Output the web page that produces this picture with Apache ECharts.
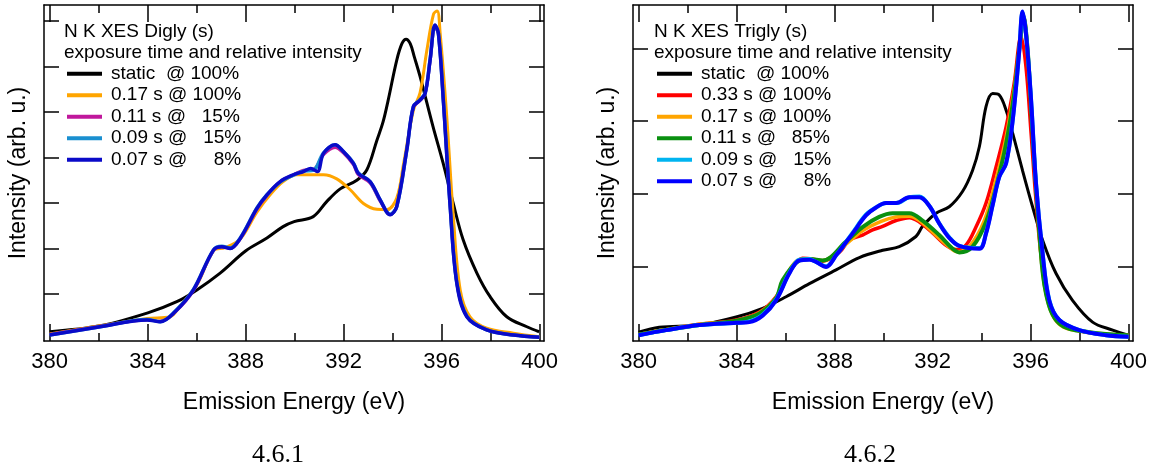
<!DOCTYPE html>
<html>
<head>
<meta charset="utf-8">
<script src="https://cdn.jsdelivr.net/npm/echarts@6/dist/echarts.min.js"></script>
<style>
html,body{margin:0;padding:0;background:#fff;}
#main{width:1151px;height:469px;}
</style>
</head>
<body>
<div id="main"></div>
<script>
// tick positions (eV)
var majorTicks = [380, 384, 388, 392, 396, 400];
var minorTicks = [382, 386, 390, 394, 398];
var tickLabels = [380, 384, 388, 392, 396, 400];
var leftYTicks = [1, 2, 3, 4, 5, 6, 7];
var rightYTicks = [1, 2, 3, 4];

// ---- 4.6.1  N K XES Digly (s) ----
var digNames = ['static  @ 100%', '0.17 s @ 100%', '0.11 s @   15%', '0.09 s @   15%', '0.07 s @     8%'];
var digColors = ['#000000', '#ffa500', '#c0189c', '#1a8fd0', '#0a0ac8'];
var digStatic = [[380.0,0.17],[382.06,0.30],[383.98,0.58],[385.19,0.83],[386.01,1.09],[386.96,1.46],[388.01,1.95],[388.87,2.23],[389.53,2.48],[389.98,2.59],[390.76,2.70],[391.31,3.03],[391.86,3.31],[392.54,3.50],[392.95,3.73],[393.36,4.38],[393.61,4.78],[393.82,5.26],[394.17,6.14],[394.38,6.50],[394.55,6.60],[394.72,6.50],[394.88,6.22],[395.12,5.78],[395.65,4.68],[396.06,3.88],[396.47,3.00],[396.88,2.19],[397.44,1.46],[397.98,0.94],[398.66,0.50],[399.48,0.28],[399.98,0.17]];
var dig017 = [[380.0,0.12],[382.06,0.30],[383.98,0.46],[384.92,0.50],[385.33,0.74],[386.01,1.20],[386.69,1.95],[387.16,2.02],[387.78,2.21],[388.46,2.80],[389.0,3.18],[389.53,3.47],[390.09,3.62],[391.18,3.62],[391.72,3.53],[392.27,3.29],[392.81,2.99],[393.36,2.86],[393.76,2.85],[394.17,3.11],[394.44,3.84],[394.85,5.04],[395.12,5.42],[395.40,6.36],[395.67,7.15],[395.82,7.22],[395.94,6.74],[396.21,4.90],[396.48,2.70],[396.76,1.09],[397.16,0.50],[397.84,0.25],[398.93,0.14],[399.99,0.06]];
var dig011 = [[380.0,0.11],[382.06,0.29],[383.98,0.43],[384.51,0.40],[385.12,0.60],[385.87,1.07],[386.69,1.95],[387.03,2.03],[387.37,2.00],[387.78,2.21],[388.46,2.86],[388.87,3.16],[389.41,3.47],[389.95,3.62],[390.36,3.72],[390.77,3.74],[391.18,4.06],[391.65,4.22],[391.99,4.10],[392.40,3.84],[392.60,3.62],[393.08,3.44],[393.49,3.04],[393.90,2.74],[394.17,2.93],[394.58,4.18],[394.85,5.10],[395.12,5.25],[395.33,5.40],[395.53,6.10],[395.73,6.86],[395.87,6.70],[396.07,5.25],[396.35,2.93],[396.62,1.24],[397.03,0.51],[397.84,0.21],[398.93,0.10],[399.99,0.05]];
var dig009 = [[380.0,0.10],[382.06,0.28],[383.98,0.44],[384.51,0.39],[385.12,0.62],[385.87,1.10],[386.69,1.97],[387.03,2.05],[387.37,2.01],[387.78,2.23],[388.46,2.89],[388.87,3.18],[389.41,3.46],[389.95,3.61],[390.36,3.70],[390.77,3.72],[391.18,4.10],[391.65,4.28],[391.99,4.13],[392.40,3.88],[392.60,3.66],[393.08,3.47],[393.49,3.07],[393.90,2.75],[394.17,2.92],[394.58,4.17],[394.85,5.12],[395.12,5.27],[395.33,5.42],[395.53,6.15],[395.73,6.90],[395.87,6.72],[396.07,5.27],[396.35,2.93],[396.62,1.25],[397.03,0.51],[397.84,0.21],[398.93,0.10],[399.99,0.05]];
var dig007 = [[380.0,0.10],[382.06,0.28],[383.98,0.43],[384.51,0.39],[385.12,0.61],[385.87,1.09],[386.69,1.97],[387.03,2.04],[387.37,2.00],[387.78,2.22],[388.46,2.88],[388.87,3.18],[389.41,3.47],[389.95,3.62],[390.36,3.69],[390.66,3.76],[390.93,3.69],[391.18,4.09],[391.65,4.28],[391.99,4.13],[392.40,3.87],[392.60,3.65],[393.08,3.47],[393.49,3.07],[393.90,2.74],[394.17,2.92],[394.58,4.17],[394.85,5.12],[395.12,5.26],[395.33,5.41],[395.53,6.14],[395.73,6.91],[395.87,6.73],[396.07,5.26],[396.35,2.92],[396.62,1.24],[397.03,0.50],[397.84,0.21],[398.93,0.10],[399.99,0.05]];

// ---- 4.6.2  N K XES Trigly (s) ----
var triNames = ['static  @ 100%', '0.33 s @ 100%', '0.17 s @ 100%', '0.11 s @   85%', '0.09 s @   15%', '0.07 s @     8%'];
var triColors = ['#000000', '#ff0000', '#ffa500', '#0a9010', '#00b4f0', '#0000ff'];
var triStatic = [[380.0,0.09],[380.84,0.16],[382.48,0.19],[383.98,0.30],[385.06,0.42],[386.02,0.58],[386.97,0.76],[388.06,0.95],[389.01,1.12],[389.96,1.22],[390.64,1.27],[391.32,1.41],[391.59,1.55],[392.14,1.73],[392.68,1.82],[393.22,2.03],[393.63,2.32],[393.91,2.65],[394.18,3.20],[394.45,3.38],[394.72,3.36],[395.0,3.15],[395.27,2.83],[395.67,2.32],[396.08,1.82],[396.49,1.36],[397.04,0.90],[397.71,0.53],[398.53,0.23],[399.35,0.12],[399.98,0.05]];
var tri033 = [[380.0,0.06],[382.48,0.20],[383.98,0.26],[384.93,0.37],[385.61,0.58],[386.02,0.85],[386.29,0.99],[386.69,1.11],[387.09,1.10],[387.51,1.07],[388.19,1.19],[388.60,1.36],[389.14,1.43],[389.55,1.50],[389.96,1.55],[390.51,1.63],[391.05,1.67],[391.46,1.61],[392.0,1.46],[392.55,1.29],[392.96,1.23],[393.36,1.29],[393.77,1.54],[394.18,1.87],[394.59,2.37],[395.0,2.92],[395.33,3.52],[395.61,4.17],[395.81,3.75],[396.02,2.83],[396.22,1.91],[396.49,0.99],[396.90,0.39],[397.58,0.16],[398.67,0.07],[400.0,0.05]];
var tri017 = [[380.0,0.06],[382.48,0.20],[383.98,0.25],[384.93,0.36],[385.61,0.57],[385.95,0.83],[386.56,1.09],[386.97,1.10],[387.51,1.08],[388.3,1.26],[389.14,1.49],[389.9,1.62],[390.5,1.68],[391.05,1.69],[391.5,1.62],[392.1,1.44],[392.7,1.26],[393.02,1.20],[393.5,1.27],[394.1,1.62],[394.59,2.20],[395.0,2.78],[395.33,3.45],[395.62,4.20],[395.72,4.45],[395.88,3.95],[396.1,2.78],[396.36,1.42],[396.63,0.62],[397.17,0.20],[398.4,0.09],[400.0,0.05]];
var tri011 = [[380.0,0.06],[382.48,0.19],[383.98,0.25],[384.93,0.35],[385.61,0.56],[385.88,0.81],[386.56,1.08],[386.97,1.10],[387.51,1.08],[388.47,1.34],[389.14,1.54],[389.82,1.68],[390.37,1.73],[391.05,1.73],[391.59,1.63],[392.27,1.43],[392.82,1.24],[393.09,1.19],[393.63,1.27],[394.18,1.61],[394.59,2.09],[395.0,2.69],[395.33,3.38],[395.61,4.21],[395.71,4.43],[395.88,3.98],[396.08,2.83],[396.36,1.45],[396.63,0.62],[397.17,0.21],[398.40,0.09],[400.0,0.05]];
var tri009 = [[380.0,0.05],[381.12,0.12],[382.48,0.19],[383.98,0.22],[384.52,0.24],[385.06,0.33],[385.61,0.54],[386.15,0.91],[386.56,1.09],[386.97,1.10],[387.24,1.06],[387.65,1.00],[388.06,1.15],[388.73,1.46],[389.28,1.71],[389.69,1.81],[390.10,1.87],[390.51,1.87],[391.05,1.95],[391.46,1.96],[391.87,1.83],[392.27,1.59],[392.68,1.40],[393.09,1.28],[393.91,1.25],[394.18,1.46],[394.45,1.85],[394.72,2.23],[395.0,2.42],[395.27,3.02],[395.54,3.98],[395.67,4.50],[395.81,4.20],[396.02,3.29],[396.22,2.15],[396.49,1.18],[396.76,0.54],[397.17,0.26],[397.99,0.12],[399.08,0.05],[400.0,0.03]];
var tri007 = [[380.0,0.05],[381.12,0.12],[382.48,0.19],[383.98,0.22],[384.52,0.23],[385.06,0.32],[385.61,0.53],[386.15,0.90],[386.56,1.08],[386.97,1.09],[387.24,1.06],[387.65,0.99],[388.06,1.15],[388.73,1.45],[389.28,1.70],[389.69,1.81],[390.10,1.87],[390.51,1.87],[391.05,1.95],[391.46,1.95],[391.87,1.83],[392.27,1.59],[392.68,1.39],[393.09,1.28],[393.91,1.24],[394.18,1.45],[394.45,1.84],[394.72,2.23],[395.0,2.42],[395.27,3.01],[395.54,3.98],[395.67,4.51],[395.81,4.21],[396.02,3.29],[396.22,2.14],[396.49,1.18],[396.76,0.53],[397.17,0.26],[397.99,0.12],[399.08,0.05],[400.0,0.03]];

var FONT = '"Liberation Sans", Arial, Helvetica, sans-serif';
var SERIF = '"Liberation Serif", "DejaVu Serif", serif';
var X_MIN = 379.77, X_MAX = 400.18;

function xAxes(g) {
    var base = {gridIndex: g, type: 'value', min: X_MIN, max: X_MAX, splitLine: {show: false}};
    return [
        Object.assign({}, base, {
            position: 'bottom',
            axisLine: {onZero: false, lineStyle: {color: '#000', width: 1.5}},
            axisTick: {inside: true, length: 17, customValues: majorTicks, lineStyle: {color: '#000', width: 1.5}},
            axisLabel: {customValues: tickLabels, fontSize: 22, color: '#000', margin: 10, fontFamily: FONT},
            name: 'Emission Energy (eV)', nameLocation: 'middle', nameGap: 50,
            nameTextStyle: {fontSize: 23, color: '#000', fontFamily: FONT}
        }),
        Object.assign({}, base, {
            position: 'bottom',
            axisLine: {show: false, onZero: false},
            axisTick: {inside: true, length: 8, customValues: minorTicks, lineStyle: {color: '#000', width: 1.5}},
            axisLabel: {show: false}
        }),
        Object.assign({}, base, {
            position: 'top',
            axisLine: {onZero: false, lineStyle: {color: '#000', width: 1.5}},
            axisTick: {inside: true, length: 17, customValues: majorTicks, lineStyle: {color: '#000', width: 1.5}},
            axisLabel: {show: false}
        }),
        Object.assign({}, base, {
            position: 'top',
            axisLine: {show: false, onZero: false},
            axisTick: {inside: true, length: 8, customValues: minorTicks, lineStyle: {color: '#000', width: 1.5}},
            axisLabel: {show: false}
        })
    ];
}

function yAxes(g, min, max, ticks) {
    var base = {gridIndex: g, type: 'value', min: min, max: max, splitLine: {show: false}, axisLabel: {show: false}};
    return [
        Object.assign({}, base, {
            position: 'left',
            axisLine: {onZero: false, lineStyle: {color: '#000', width: 1.5}},
            axisTick: {inside: true, length: 15, customValues: ticks, lineStyle: {color: '#000', width: 1.5}},
            name: 'Intensity (arb. u.)', nameLocation: 'middle', nameRotate: 90, nameGap: 14,
            nameTextStyle: {fontSize: 23, color: '#000', fontFamily: FONT}
        }),
        Object.assign({}, base, {
            position: 'right',
            axisLine: {onZero: false, lineStyle: {color: '#000', width: 1.5}},
            axisTick: {inside: true, length: 15, customValues: ticks, lineStyle: {color: '#000', width: 1.5}}
        })
    ];
}

function line(name, data, color, width, xi, yi) {
    return {
        name: name, type: 'line', data: data, xAxisIndex: xi, yAxisIndex: yi,
        showSymbol: false, symbol: 'none', smooth: 0.35, color: color,
        lineStyle: {color: color, width: width}, emphasis: {disabled: true}
    };
}

// legend entries carry their own colour, since some names repeat across panels
function legendData(names, colors) {
    return names.map(function (n, i) {
        return {name: n, itemStyle: {color: colors[i]}};
    });
}

var chart = echarts.init(document.getElementById('main'));
var option = {
    animation: false,
    backgroundColor: '#fff',
    textStyle: {fontFamily: FONT},
    grid: [
        {left: 44, top: 5, width: 500, height: 336},
        {left: 633, top: 5, width: 500, height: 336}
    ],
    title: [
        {left: 64, top: 21, padding: 0, itemGap: 0, text: 'N K XES Digly (s)', subtext: 'exposure time and relative intensity',
         textStyle: {fontSize: 19, fontWeight: 'normal', lineHeight: 21, color: '#000', fontFamily: FONT},
         subtextStyle: {fontSize: 19, lineHeight: 21, color: '#000', fontFamily: FONT}},
        {left: 654, top: 21, padding: 0, itemGap: 0, text: 'N K XES Trigly (s)', subtext: 'exposure time and relative intensity',
         textStyle: {fontSize: 19, fontWeight: 'normal', lineHeight: 21, color: '#000', fontFamily: FONT},
         subtextStyle: {fontSize: 19, lineHeight: 21, color: '#000', fontFamily: FONT}}
    ],
    legend: [
        {data: legendData(digNames, digColors), orient: 'vertical', left: 67, top: 63, padding: 0, itemGap: 0,
         itemWidth: 35, itemHeight: 4, icon: 'rect', selectedMode: false,
         textStyle: {fontSize: 19, lineHeight: 21.5, color: '#000', fontFamily: FONT, padding: [0, 0, 0, 4]}},
        {data: legendData(triNames, triColors), orient: 'vertical', left: 657, top: 63, padding: 0, itemGap: 0,
         itemWidth: 35, itemHeight: 4, icon: 'rect', selectedMode: false,
         textStyle: {fontSize: 19, lineHeight: 21.5, color: '#000', fontFamily: FONT, padding: [0, 0, 0, 4]}}
    ],
    xAxis: xAxes(0).concat(xAxes(1)),
    yAxis: yAxes(0, -0.033, 7.35, leftYTicks).concat(yAxes(1, -0.03, 4.6, rightYTicks)),
    graphic: [
        {type: 'text', x: 278, y: 455, style: {text: '4.6.1', fontSize: 26, fontFamily: SERIF, fill: '#000', align: 'center', verticalAlign: 'middle'}},
        {type: 'text', x: 870, y: 455, style: {text: '4.6.2', fontSize: 26, fontFamily: SERIF, fill: '#000', align: 'center', verticalAlign: 'middle'}}
    ],
    series: [
        line(digNames[0], digStatic, digColors[0], 3, 0, 0),
        line(digNames[1], dig017, digColors[1], 3, 0, 0),
        line(digNames[2], dig011, digColors[2], 3, 0, 0),
        line(digNames[3], dig009, digColors[3], 3.5, 0, 0),
        line(digNames[4], dig007, digColors[4], 3.5, 0, 0),

        line(triNames[0], triStatic, triColors[0], 3, 4, 2),
        line(triNames[1], tri033, triColors[1], 3.5, 4, 2),
        line(triNames[2], tri017, triColors[2], 3.5, 4, 2),
        line(triNames[3], tri011, triColors[3], 4, 4, 2),
        line(triNames[4], tri009, triColors[4], 4, 4, 2),
        line(triNames[5], tri007, triColors[5], 4, 4, 2)
    ]
};
chart.setOption(option);
</script>
</body>
</html>
